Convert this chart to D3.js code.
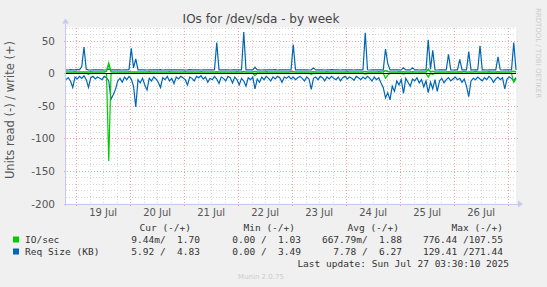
<!DOCTYPE html>
<html>
<head>
<meta charset="utf-8">
<script src="https://cdn.jsdelivr.net/npm/d3@7"></script>
<style>
  body { margin: 0; background: #f0f0f0; }
  svg { display: block; }
  text { font-family: "DejaVu Sans", sans-serif; }
  .mono { font-family: "DejaVu Sans Mono", monospace; font-size: 9.5px; fill: #333; white-space: pre; }
</style>
</head>
<body>
<svg width="547" height="287"></svg>
<script>
// hourly samples from Jul 18 19:30 to Jul 27 03:30 (UTC)
const startTime = Date.UTC(2025, 6, 18, 19, 30);
const endTime = Date.UTC(2025, 6, 27, 3, 30);

// IO/sec write (+)
const ioWrite = [
  1.8,1.7,1.9,1.8,2.0,1.7,1.8,1.9,1.8,1.7,1.8,2.0,1.8,1.7,1.9,1.8,1.8,1.7,3.0,15,2.2,1.9,1.8,1.7,
  1.8,1.9,1.7,1.8,2.0,1.8,1.9,1.7,1.8,1.8,1.9,1.7,1.8,2.0,1.8,1.7,1.9,1.8,1.8,1.7,1.9,1.8,2.0,1.7,
  1.8,1.9,1.7,1.8,1.8,2.0,1.7,1.8,1.9,1.8,1.7,1.8,2.0,1.8,1.7,1.9,1.8,1.8,1.7,2.1,1.8,1.9,1.7,1.8,
  1.8,1.9,1.7,1.8,2.0,1.8,1.9,2.3,1.8,1.7,1.8,1.9,2.5,1.8,1.7,1.9,1.8,2.0,1.7,1.8,1.9,1.8,1.7,1.8,
  1.9,1.8,1.7,1.8,2.0,2.2,1.8,1.7,1.9,1.8,1.8,1.7,1.9,1.8,2.2,1.8,1.7,1.8,1.9,1.8,2.0,1.7,1.8,1.9,
  1.8,1.7,1.9,1.8,1.8,2.0,1.7,1.8,1.9,1.8,1.7,1.8,1.9,2.4,1.8,1.7,1.8,1.9,1.8,2.0,1.7,1.8,4.0,2.5,
  1.8,1.9,1.7,1.8,2.0,1.8,2.2,1.7,1.8,1.9,2.1,1.8,1.7,1.8,1.9,1.8,1.7,6.0,2.0,3.0,1.8,1.7,1.9,1.8,
  1.8,1.9,2.2,1.7,1.8,1.9,1.8,2.2,1.7,2.4,1.8,1.9,1.7,1.8,2.3,1.8,1.7,1.9,1.8,1.8,2.0,1.7,1.8,1.9,
  2.2,1.8,1.7,1.9,1.8,1.8,2.0,3.0,1.7
];
// IO/sec read (-)
const ioRead = [
  -0.3,-0.2,-0.4,-0.3,-0.3,-0.5,-0.3,-0.2,-0.4,-0.3,-2,-0.3,-0.2,-0.4,-0.3,-0.3,-0.2,-0.4,-1,-135,-1,-0.3,-0.4,-0.3,
  -0.3,-0.2,-0.4,-0.3,-0.5,-0.3,-0.2,-0.4,-0.3,-0.3,-0.2,-0.4,-0.3,-0.3,-0.5,-0.3,-0.2,-0.4,-0.3,-0.3,-0.2,-0.4,-0.3,-0.3,
  -0.3,-0.2,-0.4,-0.3,-0.3,-0.5,-0.3,-0.2,-0.4,-0.3,-0.3,-0.2,-0.4,-0.3,-0.3,-0.5,-0.3,-0.2,-0.4,-0.3,-0.3,-0.2,-0.4,-0.3,
  -0.3,-0.2,-0.4,-0.3,-0.5,-0.3,-0.2,-0.4,-0.3,-0.3,-0.2,-0.4,-4,-0.3,-0.3,-0.2,-0.4,-0.3,-0.5,-0.3,-0.2,-0.4,-0.3,-0.3,
  -0.2,-0.4,-0.3,-0.3,-0.5,-0.3,-0.2,-0.4,-0.3,-0.3,-0.2,-0.4,-0.3,-2,-0.3,-0.2,-0.4,-0.3,-0.3,-0.5,-0.3,-0.2,-0.4,-0.3,
  -0.3,-0.2,-0.4,-0.3,-0.3,-0.5,-0.3,-0.2,-0.4,-0.3,-0.3,-0.2,-0.4,-1.5,-0.3,-0.3,-0.2,-0.4,-0.3,-0.5,-0.3,-0.2,-8,-3,
  -0.3,-0.2,-0.4,-0.3,-0.3,-0.5,-1.5,-0.2,-0.4,-0.3,-0.3,-0.2,-0.4,-0.3,-0.3,-0.5,-0.3,-6,-0.4,-2,-0.3,-0.2,-0.4,-0.3,
  -0.3,-0.2,-0.4,-0.3,-0.3,-0.5,-0.3,-0.2,-0.4,-0.3,-0.3,-0.2,-0.4,-0.3,-0.3,-0.5,-0.3,-0.2,-0.4,-0.3,-0.3,-0.2,-0.4,-0.3,
  -0.3,-0.2,-0.4,-0.3,-0.3,-0.5,-0.3,-14,-9
];
// Req Size (KB) write (+)
const reqWrite = [
  5.0,4.8,5.3,5.0,4.9,5.6,5.1,10,40,6.0,5.0,4.8,5.2,5.0,4.9,5.1,5.0,4.8,5.2,6.0,5.1,4.9,5.0,5.2,
  5.0,4.8,5.1,5.0,5.3,38,8,22,5.0,4.9,5.1,5.0,4.8,5.2,5.0,4.9,5.1,5.0,5.3,4.8,5.0,5.1,4.9,5.0,
  5.0,5.2,4.9,5.0,5.1,4.8,5.0,5.3,5.0,4.9,5.1,5.0,4.8,5.2,5.0,4.9,5.1,5.0,5.2,47,5.0,4.9,5.1,5.0,
  5.0,4.8,5.2,5.0,4.9,5.1,5.0,63,5.0,5.2,4.9,5.0,9,5.1,5.0,4.8,5.2,5.0,4.9,5.1,5.0,5.3,4.8,5.0,
  5.1,4.9,5.0,5.2,4.8,44,5.0,5.1,4.9,5.0,5.2,5.0,4.8,5.1,8,5.0,4.9,5.2,5.0,4.8,5.1,5.0,5.3,4.9,
  5.0,5.1,4.8,5.0,5.2,4.9,5.0,5.1,4.8,5.0,5.2,4.9,5.0,62,5.1,4.8,5.0,5.2,4.9,5.0,5.1,4.8,37,15,
  5.0,5.2,4.9,5.0,5.1,4.8,8,5.0,5.2,4.9,8,5.0,5.1,4.8,5.0,5.2,4.9,51,6,35,5.0,4.8,5.2,5.0,
  4.9,5.1,29,5.0,4.8,5.2,5.0,21,4.9,5.1,5.0,33,4.8,5.2,5.0,4.9,42,5.0,5.1,4.8,5.0,5.2,4.9,5.0,
  25,5.1,4.8,5.0,5.2,4.9,5.0,47,4.8
];
// Req Size (KB) read (-)
const reqRead = [
  -10,-7,-12,-22,-6,-9,-5,-8,-4,-10,-22,-7,-5,-9,-6,-8,-10,-5,-7,-12,-40,-33,-25,-12,
  -8,-14,-6,-10,-5,-9,-20,-52,-10,-15,-8,-18,-26,-8,-12,-6,-9,-14,-22,-7,-10,-5,-12,-8,
  -16,-6,-9,-5,-7,-10,-18,-6,-8,-12,-5,-7,-4,-9,-6,-14,-8,-10,-5,-9,-16,-6,-8,-12,
  -5,-7,-15,-6,-10,-18,-8,-12,-20,-7,-10,-6,-24,-9,-14,-6,-10,-5,-8,-12,-6,-9,-5,-7,
  -14,-6,-8,-5,-9,-6,-10,-7,-5,-8,-12,-6,-9,-25,-8,-6,-10,-5,-7,-12,-6,-9,-5,-8,
  -10,-6,-12,-7,-5,-9,-6,-8,-11,-5,-7,-10,-6,-9,-5,-8,-12,-6,-10,-7,-15,-22,-38,-30,
  -41,-20,-28,-12,-18,-10,-31,-8,-14,-20,-9,-12,-7,-15,-10,-21,-12,-30,-14,-24,-10,-28,-12,-8,
  -15,-10,-7,-12,-9,-6,-10,-8,-14,-9,-20,-36,-12,-8,-10,-6,-9,-12,-7,-10,-5,-8,-14,-9,
  -6,-10,-7,-24,-9,-6,-8,-12,-7
];

const yTicks = [50, 0, -50, -100, -150, -200];

const legendRows = [
  { name: 'IO/sec', color: '#00cc00', cur: '9.44m/  1.70', min: '0.00 /  1.03', avg: '667.79m/  1.88', max: '776.44 /107.55' },
  { name: 'Req Size (KB)', color: '#0066b3', cur: '5.92 /  4.83', min: '0.00 /  3.49', avg: '7.78 /  6.27', max: '129.41 /271.44' }
];

const svg = d3.select('svg');
const plot = { left: 66, right: 516, top: 27.5, bottom: 203.5 };

const hours = ioWrite.map((d, i) => new Date(startTime + i * 3600e3));

const xScale = d3.scaleUtc()
  .domain([new Date(startTime), new Date(endTime)])
  .range([plot.left, plot.right]);
const yScale = d3.scaleLinear()
  .domain([-200, 70])
  .range([plot.bottom, plot.top]);

// plot background
svg.append('rect')
  .attr('x', plot.left).attr('y', plot.top)
  .attr('width', plot.right - plot.left).attr('height', plot.bottom - plot.top)
  .attr('fill', '#ffffff');

const grid = svg.append('g').attr('shape-rendering', 'crispEdges');

// horizontal grid, minor every 10, major every 50
d3.range(-200, 71, 10).forEach(v => {
  const major = v % 50 === 0;
  const y = Math.round(yScale(v)) + 0.5;
  grid.append('line')
    .attr('x1', plot.left - (major ? 2 : 0)).attr('x2', plot.right + (major ? 2 : 0))
    .attr('y1', y).attr('y2', y)
    .attr('stroke', major ? '#f2a0a0' : '#d8d8d8')
    .attr('stroke-dasharray', '1,2');
});

// vertical grid, minor every 6 hours, major every day
d3.utcHour.every(6).range(new Date(startTime), new Date(endTime)).forEach(t => {
  const major = t.getUTCHours() === 0;
  const x = Math.round(xScale(t)) + 0.5;
  grid.append('line')
    .attr('x1', x).attr('x2', x)
    .attr('y1', plot.top).attr('y2', plot.bottom + (major ? 2 : 0))
    .attr('stroke', major ? '#f2a0a0' : '#d8d8d8')
    .attr('stroke-dasharray', '1,2');
});

// axis lines with arrows
grid.append('line')
  .attr('x1', plot.left - 2).attr('x2', plot.right + 2)
  .attr('y1', plot.bottom + 0.5).attr('y2', plot.bottom + 0.5)
  .attr('stroke', '#c8c8f0');
grid.append('line')
  .attr('x1', plot.left - 0.5).attr('x2', plot.left - 0.5)
  .attr('y1', plot.bottom + 2).attr('y2', plot.top - 4)
  .attr('stroke', '#c8c8f0');
svg.append('path')
  .attr('d', `M${plot.right + 2},${plot.bottom - 3} L${plot.right + 7},${plot.bottom + 0.5} L${plot.right + 2},${plot.bottom + 4} Z`)
  .attr('fill', '#c8c8f0');
svg.append('path')
  .attr('d', `M${plot.left - 4},${plot.top - 4} L${plot.left - 0.5},${plot.top - 9} L${plot.left + 3},${plot.top - 4} Z`)
  .attr('fill', '#c8c8f0');

// y tick labels
svg.append('g').selectAll('text')
  .data(yTicks)
  .enter().append('text')
  .attr('x', 55)
  .attr('y', d => yScale(d) + 4)
  .attr('text-anchor', 'end')
  .attr('font-size', '10.5px')
  .attr('fill', '#555')
  .text(d => d);

// x labels at noon of each day
const noons = d3.utcDay.range(new Date(startTime), new Date(endTime))
  .map(d => new Date(d.getTime() + 12 * 3600e3))
  .filter(d => d.getTime() < endTime);
svg.append('g').selectAll('text')
  .data(noons)
  .enter().append('text')
  .attr('x', d => xScale(d))
  .attr('y', 216)
  .attr('text-anchor', 'middle')
  .attr('font-size', '10px')
  .attr('fill', '#555')
  .text(d3.utcFormat('%d %b'));

// series lines
const line = d3.line()
  .x((d, i) => xScale(hours[i]))
  .y(d => yScale(d));

const lines = svg.append('g').attr('fill', 'none').attr('stroke-width', 1.2);
lines.append('path').datum(reqRead).attr('d', line).attr('stroke', '#0066b3');
lines.append('path').datum(reqWrite).attr('d', line).attr('stroke', '#0066b3');
lines.append('path').datum(ioRead).attr('d', line).attr('stroke', '#00cc00');

// zero line
svg.append('line')
  .attr('x1', plot.left).attr('x2', plot.right)
  .attr('y1', Math.round(yScale(0)) + 0.5).attr('y2', Math.round(yScale(0)) + 0.5)
  .attr('stroke', '#000').attr('shape-rendering', 'crispEdges');

lines.append('path').datum(ioWrite).attr('d', line).attr('stroke', '#00cc00').attr('stroke-width', 1.5);

// title
svg.append('text')
  .attr('x', 261).attr('y', 23)
  .attr('text-anchor', 'middle')
  .attr('font-size', '12px')
  .attr('fill', '#444')
  .text('IOs for /dev/sda - by week');

// y axis title
svg.append('text')
  .attr('transform', 'translate(14, 110) rotate(-90)')
  .attr('text-anchor', 'middle')
  .attr('font-size', '11.5px')
  .attr('fill', '#555')
  .text('Units read (-) / write (+)');

// side watermark
svg.append('text')
  .attr('transform', 'translate(536, 53) rotate(90)')
  .attr('text-anchor', 'middle')
  .attr('font-size', '7px')
  .attr('fill', '#cccccc')
  .text('RRDTOOL / TOBI OETIKER');

// legend
const legend = svg.append('g');
const cols = [
  { key: 'cur', head: 'Cur (-/+)', headEnd: 191, valEnd: 200 },
  { key: 'min', head: 'Min (-/+)', headEnd: 295, valEnd: 301 },
  { key: 'avg', head: 'Avg (-/+)', headEnd: 399, valEnd: 402 },
  { key: 'max', head: 'Max (-/+)', headEnd: 503, valEnd: 503 }
];
cols.forEach(c => {
  legend.append('text').attr('class', 'mono')
    .attr('x', c.headEnd).attr('y', 231).attr('text-anchor', 'end')
    .text(c.head);
});
legendRows.forEach((r, i) => {
  const y = 243 + i * 12;
  legend.append('rect')
    .attr('x', 13).attr('y', y - 6.5).attr('width', 6).attr('height', 6)
    .attr('fill', r.color);
  legend.append('text').attr('class', 'mono')
    .attr('x', 25).attr('y', y).text(r.name);
  cols.forEach(c => {
    legend.append('text').attr('class', 'mono')
      .attr('x', c.valEnd).attr('y', y).attr('text-anchor', 'end')
      .text(r[c.key]);
  });
});
legend.append('text').attr('class', 'mono')
  .attr('x', 509).attr('y', 267).attr('text-anchor', 'end')
  .text('Last update: Sun Jul 27 03:30:10 2025');

svg.append('text')
  .attr('x', 261).attr('y', 279)
  .attr('text-anchor', 'middle')
  .attr('font-size', '7px')
  .attr('fill', '#cccccc')
  .text('Munin 2.0.75');
</script>
</body>
</html>
